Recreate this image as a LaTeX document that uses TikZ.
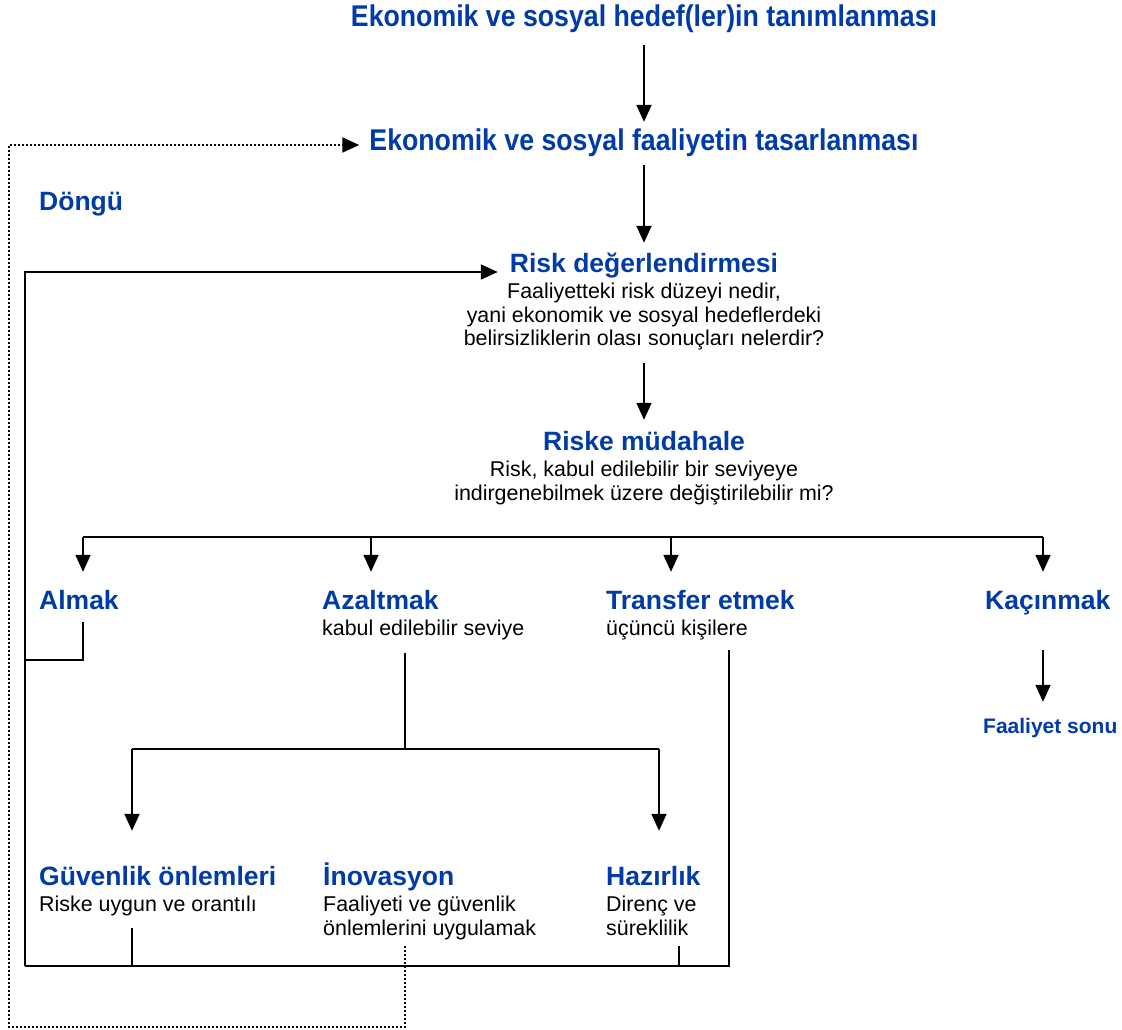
\documentclass[tikz,border=0pt]{standalone}
\usepackage{fontspec}
\setmainfont{Liberation Sans}
\newfontfamily\narrowsans[FakeStretch=0.89]{Liberation Sans}
\usetikzlibrary{arrows.meta,positioning}

\definecolor{headblue}{rgb}{0.000000, 0.231373, 0.658824}

\tikzset{
  hdtitle/.style={font=\narrowsans\bfseries\fontsize{30}{34}\selectfont, text=headblue,
    inner sep=0pt, text height=22pt, text depth=6pt},
  hdtext/.style={font=\bfseries\fontsize{26.5}{30}\selectfont, text=headblue,
    inner sep=0pt, text height=20pt, text depth=5pt},
  hdsmall/.style={hdtext, font=\bfseries\fontsize{21}{24}\selectfont,
    text height=15pt, text depth=4pt},
  bodytext/.style={font=\fontsize{21.4}{23.5}\selectfont, inner sep=0pt},
  wire/.style={line width=1.8pt, line join=miter},
  flow/.style={wire, -{Triangle[length=17pt,width=15pt]}},
  loopback/.style={flow, line width=2pt, dash pattern=on 2pt off 2pt}
}

\begin{document}
\begin{tikzpicture}[x=1pt,y=-1pt]
\useasboundingbox (0,0) rectangle (1122,1030);
% titles
\node[hdtitle, anchor=base] (goal) at (644,27) {Ekonomik ve sosyal hedef(ler)in tanımlanması};
\node[hdtitle, anchor=base] (design) at (644,150) {Ekonomik ve sosyal faaliyetin tasarlanması};
\node[hdtext, anchor=base west] (cycle) at (39,210) {Döngü};
% risk assessment and treatment
\node[hdtext, anchor=base] (riskdeg) at (644,272) {Risk değerlendirmesi};
\node[bodytext, align=center, below=11pt of riskdeg.base] (riskdegB) {Faaliyetteki risk düzeyi nedir,\\yani ekonomik ve sosyal hedeflerdeki\\belirsizliklerin olası sonuçları nelerdir?};
\node[hdtext, anchor=base] (mudahale) at (644,450) {Riske müdahale};
\node[bodytext, align=center, below=11pt of mudahale.base] (mudahaleB) {Risk, kabul edilebilir bir seviyeye\\indirgenebilmek üzere değiştirilebilir mi?};
% four options
\node[hdtext, anchor=base west] (almak) at (39,609) {Almak};
\node[hdtext, anchor=base west] (azal) at (322,609) {Azaltmak};
\node[bodytext, align=left, below=11pt of azal.base west, anchor=north west] (azalB) {kabul edilebilir seviye};
\node[hdtext, anchor=base west] (transfer) at (606,609) {Transfer etmek};
\node[bodytext, align=left, below=11pt of transfer.base west, anchor=north west] (transferB) {üçüncü kişilere};
\node[hdtext, anchor=base west] (kacin) at (985,609) {Kaçınmak};
\node[hdsmall, anchor=base west] (sonu) at (983,733) {Faaliyet sonu};
% reduction measures
\node[hdtext, anchor=base west] (guven) at (39,885) {Güvenlik önlemleri};
\node[bodytext, align=left, below=11pt of guven.base west, anchor=north west] (guvenB) {Riske uygun ve orantılı};
\node[hdtext, anchor=base west] (inov) at (323,885) {İnovasyon};
\node[bodytext, align=left, below=11pt of inov.base west, anchor=north west] (inovB) {Faaliyeti ve güvenlik\\önlemlerini uygulamak};
\node[hdtext, anchor=base west] (hazir) at (606,885) {Hazırlık};
\node[bodytext, align=left, below=11pt of hazir.base west, anchor=north west] (hazirB) {Direnç ve\\süreklilik};

% main flow
\draw[flow, shorten <=12pt, shorten >=6pt] (goal.south) -- (design.north);
\draw[flow, shorten <=9pt, shorten >=9pt] (design.south) -- (riskdeg.north);
\draw[flow, shorten <=13pt, shorten >=10pt] (riskdegB.south) -- (mudahale.north);

% branching
\coordinate (brA) at (83,537);
\coordinate (brZ) at (371,537);
\coordinate (brT) at (671,537);
\coordinate (brK) at (1043,537);
\draw[wire] (brA) -- (brK);
\foreach \c/\n in {brA/almak, brZ/azal, brT/transfer, brK/kacin}
  \draw[flow, shorten >=17pt] (\c) -- (\c |- \n.north);
\draw[flow, shorten <=36pt, shorten >=16pt] (brK |- kacin.south) -- (brK |- sonu.north);

% feedback to risk assessment
\coordinate (fbTop) at (25,272);
\coordinate (fbBot) at (25,966);
\coordinate (almakL) at (25,660);
\coordinate (trBot) at (729,966);
\draw[wire, shorten <=8pt] (brA |- almak.south) |- (almakL);
\draw[flow, shorten >=12pt] (fbBot) -- (fbTop) -- (fbTop -| riskdeg.west);
\draw[wire, shorten >=10pt] (fbBot) -- (trBot) -- (trBot |- transferB.south);

% reduction split
\coordinate (splitL) at (132,749);
\coordinate (splitM) at (405,749);
\coordinate (splitR) at (659,749);
\coordinate (hzStub) at (679,966);
\draw[wire, shorten <=13pt] (splitM |- azalB.south) -- (splitM);
\draw[wire] (splitL) -- (splitR);
\draw[flow, shorten >=34pt] (splitL) -- (splitL |- guven.north);
\draw[flow, shorten >=34pt] (splitR) -- (splitR |- hazir.north);
\draw[wire, shorten <=12pt] (splitL |- guvenB.south) -- (splitL |- fbBot);
\draw[wire, shorten <=10pt] (hzStub |- hazirB.south) -- (hzStub);

% dotted cycle back to design
\coordinate (dtBot) at (405,1027);
\coordinate (dtCorner) at (9,1027);
\coordinate (dtTop) at (9,145);
\draw[loopback, shorten <=6pt, shorten >=10pt] (dtBot |- inovB.south) -- (dtBot) -- (dtCorner) -- (dtTop) -- (dtTop -| design.west);
\end{tikzpicture}
\end{document}
